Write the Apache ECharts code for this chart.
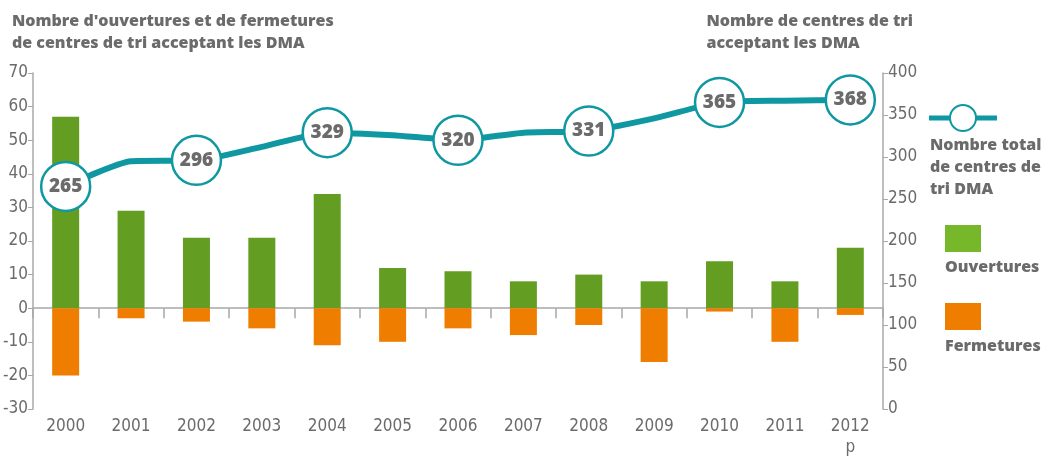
<!DOCTYPE html>
<html>
<head>
<meta charset="utf-8">
<script src="https://cdn.jsdelivr.net/npm/echarts@6/dist/echarts.min.js"></script>
<style>
  html, body { margin: 0; padding: 0; background: #fff; }
  #chart { width: 1048px; height: 458px; }
</style>
</head>
<body>
<div id="chart"></div>
<script>
// Years on the horizontal axis and their printed labels (2012 is provisional)
const years = ['2000','2001','2002','2003','2004','2005','2006','2007','2008','2009','2010','2011','2012'];
const yearLabels = ['2000','2001','2002','2003','2004','2005','2006','2007','2008','2009','2010','2011','2012\np'];

// Openings and closings of sorting centres accepting household packaging (left axis)
const ouvertures = [57, 29, 21, 21, 34, 12, 11, 8, 10, 8, 14, 8, 18];
const fermetures = [-20, -3, -4, -6, -11, -10, -6, -8, -5, -16, -1, -10, -2];

// Total number of centres (right axis); circled values are the ones printed
const totalCentres = [265, 295, 296, 312, 329, 326, 320, 329, 331, 346, 365, 367, 368];
const circledYears = ['2000','2002','2004','2006','2008','2010','2012'];

const leftTicks = { min: -30, max: 70, interval: 10 };
const rightTicks = { min: 0, max: 400, interval: 50 };

const GREY = '#6b6b6b';
const AXIS = '#a8a8a8';
const TEAL = '#0f98a1';
const GREEN_BAR = '#639d22';
const GREEN_KEY = '#77b82b';
const ORANGE = '#ef7d00';
const NARROW = '"Liberation Sans Narrow", "DejaVu Sans Condensed", sans-serif';
const BOLD = '"Open Sans", Lato, sans-serif';
const HEAVY = '800 16px ' + BOLD;

const lineData = totalCentres.map((v, i) => {
  const circled = circledYears.includes(years[i]);
  return {
    value: v,
    symbol: circled ? 'circle' : 'none',
    label: { show: circled }
  };
});

const chart = echarts.init(document.getElementById('chart'), null, { renderer: 'canvas' });

chart.setOption({
  animation: false,
  backgroundColor: '#ffffff',
  grid: { left: 32, right: 165, top: 73, bottom: 46, containLabel: false },
  graphic: [
    {
      type: 'text', left: 12, top: 10,
      style: {
        text: "Nombre d'ouvertures et de fermetures\nde centres de tri acceptant les DMA",
        font: HEAVY, fill: GREY, lineHeight: 22
      }
    },
    {
      type: 'text', right: 135, top: 10,
      style: {
        text: 'Nombre de centres de tri\nacceptant les DMA',
        font: HEAVY, fill: GREY, lineHeight: 22, align: 'right'
      }
    },
    // Key: total centres line
    { type: 'line', shape: { x1: 929, y1: 118, x2: 997, y2: 118 }, style: { stroke: TEAL, lineWidth: 5 } },
    { type: 'circle', shape: { cx: 963, cy: 118, r: 13 }, style: { fill: '#fff', stroke: TEAL, lineWidth: 2 } },
    {
      type: 'text', left: 930, top: 134,
      style: { text: 'Nombre total\nde centres de\ntri DMA', font: HEAVY, fill: GREY, lineHeight: 22 }
    },
    // Key: openings
    { type: 'rect', shape: { x: 945, y: 225, width: 36, height: 27 }, style: { fill: GREEN_KEY } },
    {
      type: 'text', left: 945, top: 259,
      style: { text: 'Ouvertures', font: HEAVY, fill: GREY }
    },
    // Key: closings
    { type: 'rect', shape: { x: 945, y: 303, width: 36, height: 27 }, style: { fill: ORANGE } },
    {
      type: 'text', left: 945, top: 338,
      style: { text: 'Fermetures', font: HEAVY, fill: GREY }
    }
  ],
  xAxis: [
    {
      type: 'category',
      data: years,
      boundaryGap: true,
      position: 'bottom',
      axisLine: { show: false, onZero: false },
      axisTick: { show: false },
      axisLabel: {
        color: GREY, fontFamily: NARROW, fontSize: 17, margin: 7, lineHeight: 21,
        formatter: (v, i) => yearLabels[i]
      }
    },
    {
      type: 'category',
      data: years,
      boundaryGap: true,
      position: 'bottom',
      axisLine: { show: true, onZero: true, onZeroAxisIndex: 0, lineStyle: { color: AXIS, width: 1.5 } },
      axisTick: { show: true, length: 10, interval: 0, lineStyle: { color: AXIS, width: 1.5 } },
      axisLabel: { show: false }
    }
  ],
  yAxis: [
    {
      type: 'value',
      min: leftTicks.min, max: leftTicks.max, interval: leftTicks.interval,
      position: 'left',
      axisLine: { show: true, lineStyle: { color: AXIS, width: 1.5 } },
      axisTick: { show: true, length: 5, lineStyle: { color: AXIS } },
      splitLine: { show: false },
      axisLabel: { color: GREY, fontFamily: NARROW, fontSize: 17, margin: 5 }
    },
    {
      type: 'value',
      min: rightTicks.min, max: rightTicks.max, interval: rightTicks.interval,
      position: 'right',
      axisLine: { show: true, lineStyle: { color: AXIS, width: 1.5 } },
      axisTick: { show: true, length: 5, lineStyle: { color: AXIS } },
      splitLine: { show: false },
      axisLabel: { color: GREY, fontFamily: NARROW, fontSize: 17, margin: 5 }
    }
  ],
  series: [
    {
      name: 'Ouvertures',
      type: 'bar',
      xAxisIndex: 0, yAxisIndex: 0,
      data: ouvertures,
      barWidth: 27,
      barGap: '-100%',
      itemStyle: { color: GREEN_BAR },
      z: 2
    },
    {
      name: 'Fermetures',
      type: 'bar',
      xAxisIndex: 0, yAxisIndex: 0,
      data: fermetures,
      barWidth: 27,
      itemStyle: { color: ORANGE },
      z: 2
    },
    {
      name: 'Nombre total de centres de tri DMA',
      type: 'line',
      xAxisIndex: 0, yAxisIndex: 1,
      data: lineData,
      smooth: 0.2,
      symbolSize: 49,
      lineStyle: { color: TEAL, width: 6 },
      itemStyle: { color: '#ffffff', borderColor: TEAL, borderWidth: 2.5 },
      label: {
        position: 'inside',
        color: GREY, fontFamily: BOLD, fontWeight: 800, fontSize: 19
      },
      z: 5
    }
  ]
});
</script>
</body>
</html>
